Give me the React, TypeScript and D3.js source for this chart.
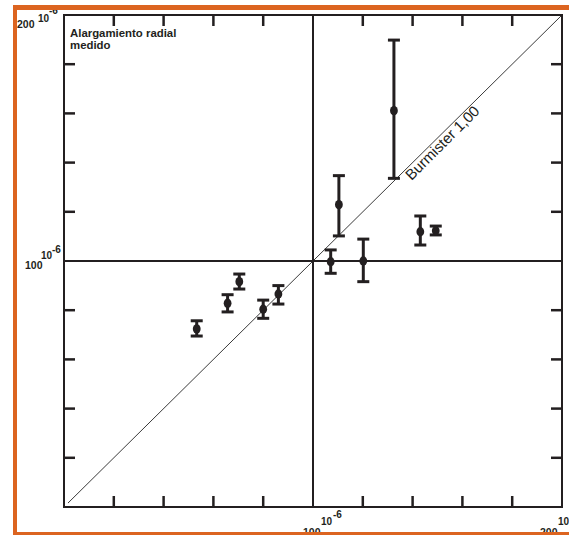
import React from "react";
import * as d3 from "d3";

const xValues = [53.3, 65.7, 70.4, 80.0, 86.1, 107.1, 110.4, 120.2, 132.5, 143.1, 149.3];
const yValues = [72.4, 82.8, 91.6, 80.4, 86.6, 99.7, 122.9, 100.0, 161.1, 111.9, 112.3];
const yHigh = [75.7, 86.3, 94.7, 84.1, 90.0, 104.5, 134.7, 108.9, 189.8, 118.3, 114.2];
const yLow = [69.5, 79.3, 88.6, 76.7, 82.5, 95.0, 110.2, 91.6, 133.6, 106.5, 110.6];
const tickValues = [20, 40, 60, 80, 120, 140, 160, 180];
const legendLines = ["Alargamiento radial", "medido"];
const lineLabel = "Burmister 1,00";

const W = 569;
const H = 535;
const L = 64, R = 562, T = 15, B = 507;
const ORANGE = "#dc6420";
const INK = "#231f20";

export default function App() {
  const x = d3.scaleLinear().domain([0, 200]).range([L, R]);
  const y = d3.scaleLinear().domain([0, 200]).range([B, T]);
  const tl = 11;
  const font = "'Liberation Sans', Arial, sans-serif";
  const diag = d3.line<[number, number]>().x((d) => x(d[0])).y((d) => y(d[1]));
  const lx = x(150), ly = y(150);
  return (
    <svg width={W} height={H} style={{ position: "absolute", left: 0, top: 0, background: "#fff" }} fontFamily={font}>
      <rect x={0} y={0} width={W} height={H} fill="#fff" />
      {/* diagonal */}
      <path d={diag([[1.6, 1.6], [200, 200]]) || ""} stroke="#3a3a3a" strokeWidth={1} fill="none" />
      <text
        transform={`translate(${lx},${ly}) rotate(-45)`}
        dy={12}
        textAnchor="middle"
        fontSize={15}
        fill={INK}
      >
        {lineLabel}
      </text>
      {/* center lines */}
      <line x1={x(100)} x2={x(100)} y1={y(0)} y2={y(200)} stroke={INK} strokeWidth={2} />
      <line x1={x(0)} x2={x(200)} y1={y(100)} y2={y(100)} stroke={INK} strokeWidth={2} />
      {/* frame */}
      <rect x={L} y={T} width={R - L} height={B - T} fill="none" stroke={INK} strokeWidth={2} />
      {/* ticks */}
      {tickValues.map((v) => (
        <g key={"t" + v} stroke={INK} strokeWidth={2.5}>
          <line x1={x(v)} x2={x(v)} y1={y(0)} y2={y(0) - tl} />
          <line x1={x(v)} x2={x(v)} y1={y(200)} y2={y(200) + tl} />
          <line x1={x(0)} x2={x(0) + tl} y1={y(v)} y2={y(v)} />
          <line x1={x(200)} x2={x(200) - tl} y1={y(v)} y2={y(v)} />
        </g>
      ))}
      {/* error bars */}
      {xValues.map((xv, i) => {
        const cx = x(xv);
        return (
          <g key={"e" + i} stroke={INK}>
            <line x1={cx} x2={cx} y1={y(yHigh[i])} y2={y(yLow[i])} strokeWidth={3} />
            <line x1={cx - 6} x2={cx + 6} y1={y(yHigh[i])} y2={y(yHigh[i])} strokeWidth={3} />
            <line x1={cx - 6} x2={cx + 6} y1={y(yLow[i])} y2={y(yLow[i])} strokeWidth={3} />
          </g>
        );
      })}
      {xValues.map((xv, i) => (
        <ellipse key={"p" + i} cx={x(xv)} cy={y(yValues[i])} rx={3.9} ry={4.7} fill={INK} />
      ))}
      {/* legend */}
      {legendLines.map((s, i) => (
        <text key={"l" + i} x={70} y={37 + i * 12} fontSize={11.4} fontWeight="bold" fill={INK}>
          {s}
        </text>
      ))}
      {/* axis value labels */}
      <g fontWeight="bold" fill={INK}>
        <text x={17} y={28} fontSize={10.5}>200</text>
        <text x={38} y={22} fontSize={10}>10</text>
        <text x={49} y={14} fontSize={10}>-6</text>

        <text x={25} y={269} fontSize={10.5}>100</text>
        <text x={41} y={259} fontSize={10}>10</text>
        <text x={52} y={253} fontSize={10}>-6</text>

        <text x={303} y={536} fontSize={10.5}>100</text>
        <text x={321} y={525} fontSize={10}>10</text>
        <text x={333} y={518} fontSize={10}>-6</text>

        <text x={540} y={536} fontSize={10.5}>200</text>
        <text x={558} y={525} fontSize={10}>10</text>
        <text x={570} y={518} fontSize={10}>-6</text>
      </g>
      {/* orange border */}
      <rect x={13} y={5} width={W - 13} height={5} fill={ORANGE} />
      <rect x={13} y={5} width={4} height={H - 5} fill={ORANGE} />
      <rect x={13} y={532} width={W - 13} height={4} fill={ORANGE} />
    </svg>
  );
}
